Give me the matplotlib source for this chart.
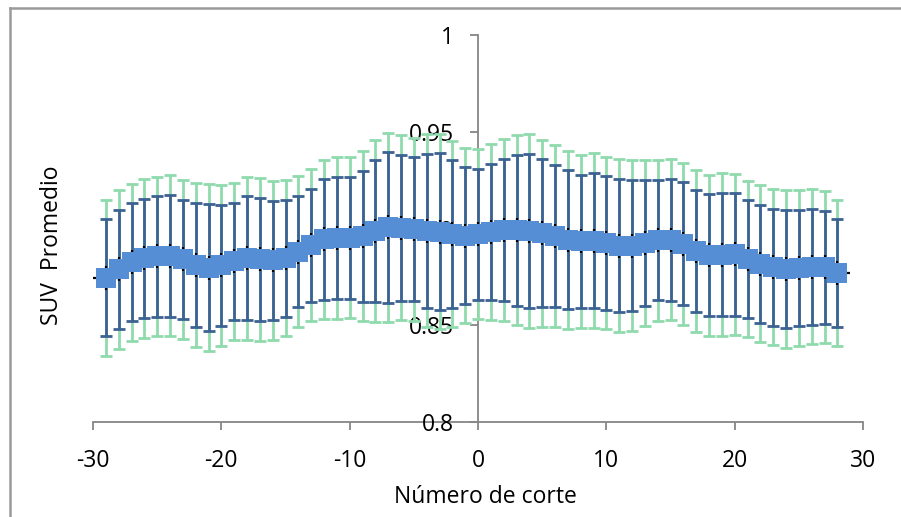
import numpy as np
import matplotlib
matplotlib.use("Agg")
from matplotlib import pyplot as plt
from matplotlib.lines import Line2D

plt.rcParams['font.family'] = ['Open Sans', 'DejaVu Sans']
plt.rcParams['axes.unicode_minus'] = False

# slice position
corte = [-29, -28, -27, -26, -25, -24, -23, -22, -21, -20, -19, -18, -17, -16, -15,
         -14, -13, -12, -11, -10, -9, -8, -7, -6, -5, -4, -3, -2, -1, 0,
         1, 2, 3, 4, 5, 6, 7, 8, 9, 10, 11, 12, 13, 14, 15,
         16, 17, 18, 19, 20, 21, 22, 23, 24, 25, 26, 27, 28]
# mean SUV
suvMedio = [0.8746, 0.8789, 0.8825, 0.8845, 0.8856, 0.8859, 0.8840, 0.8812, 0.8798, 0.8809,
            0.8830, 0.8846, 0.8840, 0.8835, 0.8847, 0.8881, 0.8914, 0.8944, 0.8951, 0.8951,
            0.8960, 0.8986, 0.9006, 0.9003, 0.8997, 0.8989, 0.8984, 0.8971, 0.8963, 0.8970,
            0.8982, 0.8990, 0.8991, 0.8987, 0.8975, 0.8961, 0.8941, 0.8933, 0.8937, 0.8925,
            0.8912, 0.8911, 0.8924, 0.8939, 0.8941, 0.8921, 0.8884, 0.8863, 0.8865, 0.8866,
            0.8843, 0.8818, 0.8799, 0.8792, 0.8795, 0.8802, 0.8799, 0.8771]
# inner error (dark blue bars)
errInterno = [0.0303, 0.0308, 0.0305, 0.0307, 0.0311, 0.0314, 0.0309, 0.0320, 0.0330, 0.0314,
              0.0303, 0.0320, 0.0318, 0.0306, 0.0302, 0.0288, 0.0292, 0.0311, 0.0316, 0.0316,
              0.0338, 0.0367, 0.0391, 0.0378, 0.0372, 0.0398, 0.0405, 0.0382, 0.0353, 0.0337,
              0.0351, 0.0367, 0.0390, 0.0398, 0.0382, 0.0368, 0.0359, 0.0346, 0.0349, 0.0344,
              0.0345, 0.0339, 0.0326, 0.0311, 0.0314, 0.0318, 0.0317, 0.0315, 0.0318, 0.0316,
              0.0305, 0.0305, 0.0301, 0.0306, 0.0300, 0.0300, 0.0293, 0.0278]
# outer error (green bars)
errExterno = [0.0403, 0.0410, 0.0406, 0.0409, 0.0412, 0.0415, 0.0410, 0.0422, 0.0431, 0.0416,
              0.0404, 0.0422, 0.0420, 0.0409, 0.0402, 0.0389, 0.0393, 0.0410, 0.0417, 0.0416,
              0.0440, 0.0470, 0.0490, 0.0478, 0.0473, 0.0499, 0.0505, 0.0482, 0.0451, 0.0439,
              0.0456, 0.0470, 0.0490, 0.0501, 0.0484, 0.0471, 0.0462, 0.0445, 0.0451, 0.0445,
              0.0448, 0.0442, 0.0430, 0.0415, 0.0416, 0.0420, 0.0419, 0.0416, 0.0422, 0.0416,
              0.0404, 0.0406, 0.0403, 0.0409, 0.0402, 0.0400, 0.0393, 0.0376]
xTicks = [-30, -20, -10, 0, 10, 20, 30]
yTicks = [0.8, 0.85, 0.9, 0.95, 1.0]
yTickLabels = ["0.8", "0.85", "0.9", "0.95", "1"]

W, H = 901, 517
fig = plt.figure(figsize=(W / 100, H / 100), dpi=100)
ax = fig.add_axes([93 / W, 1 - 422 / H, 770 / W, 387 / H])

ax.errorbar(corte, suvMedio, yerr=errExterno, fmt='none', ecolor='#8fdbad',
            elinewidth=2.0, capsize=4.3, capthick=2.0, zorder=2)
ax.errorbar(corte, suvMedio, yerr=errInterno, fmt='none', ecolor='#3b6293',
            elinewidth=2.0, capsize=4.3, capthick=2.0, zorder=3)
ax.errorbar(corte, suvMedio, xerr=1, yerr=0.0062, fmt='s', color='#558ed5',
            ecolor='black', elinewidth=1.6, capsize=4.3, capthick=2.0,
            markersize=14.4, markeredgewidth=0, zorder=4)

ax.set_xlim(-30, 30)
ax.set_ylim(0.8, 1.0)
ax.spines['left'].set_position(('data', 0))
ax.spines['top'].set_visible(False)
ax.spines['right'].set_visible(False)
for s in ['left', 'bottom']:
    ax.spines[s].set_color('#868686')
    ax.spines[s].set_linewidth(1.3)
    ax.spines[s].set_zorder(1)
ax.set_xticks(xTicks)
ax.set_yticks(yTicks)
ax.set_yticklabels(yTickLabels)
ax.tick_params(axis='both', colors='#868686', labelcolor='black', labelsize=16.5,
               length=5.5, width=1.3, direction='out')
ax.tick_params(axis='y', pad=12)
ax.tick_params(axis='x', pad=14)
ax.patch.set_alpha(0)

fig.text(52 / W, 1 - 245 / H, "SUV  Promedio", rotation=90, ha='center', va='center',
         fontsize=16.5)
fig.text(485 / W, 1 - 497 / H, "Número de corte", ha='center', va='center', fontsize=16.5)

# chart area border
fig.add_artist(Line2D([9.5 / W, 9.5 / W], [0, 1 - 8 / H], color='#9a9a9a', lw=1.8))
fig.add_artist(Line2D([9.5 / W, 1], [1 - 8 / H, 1 - 8 / H], color='#9a9a9a', lw=1.8))

fig.savefig("out.png", dpi=100)
